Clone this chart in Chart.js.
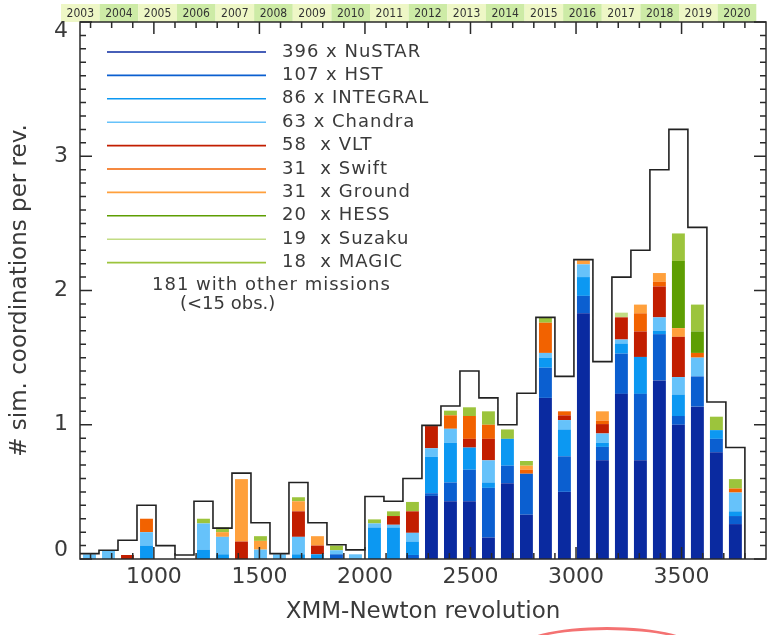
<!DOCTYPE html>
<html>
<head>
<meta charset="utf-8">
<script src="https://cdn.jsdelivr.net/npm/chart.js@4.4.1/dist/chart.umd.min.js"></script>
<style>
body { margin: 0; background: #fff; }
#wrap { position: relative; width: 769px; height: 635px; overflow: hidden; }
#arc { position: absolute; left: 515px; top: 627px; width: 178px; height: 40px; border: 3px solid #f47272; border-radius: 50%; }
</style>
</head>
<body>
<div id="wrap">
<canvas id="myChart" width="769" height="635"></canvas>
<div id="arc"></div>
</div>
<script>
// half-year bins of XMM-Newton revolutions (bin centres)
var binCenters = [695, 785, 875, 965, 1055, 1145, 1235, 1325, 1415, 1505, 1595, 1685, 1775, 1865, 1955, 2045, 2135, 2225,
                  2315, 2405, 2495, 2585, 2675, 2765, 2855, 2945, 3035, 3125, 3215, 3305, 3395, 3485, 3575, 3665, 3755];
var binWidth = 90;

var nustar   = [0, 0, 0, 0, 0, 0, 0, 0, 0, 0, 0, 0, 0, 0, 0, 0, 0, 0,
                0.47, 0.43, 0.43, 0.16, 0.565, 0.33, 1.2, 0.5, 1.83, 0.735, 1.23, 0.735, 1.33, 1.0, 1.135, 0.795, 0.26];
var hst      = [0, 0, 0, 0, 0, 0, 0, 0, 0, 0, 0, 0, 0, 0.035, 0, 0, 0, 0.03,
                0.02, 0.14, 0.235, 0.37, 0.13, 0.305, 0.225, 0.265, 0.13, 0.1, 0.3, 0.495, 0.345, 0.065, 0.225, 0.1, 0.06];
var integral = [0, 0, 0, 0.1, 0, 0, 0.07, 0.035, 0, 0, 0, 0.035, 0.035, 0, 0, 0.235, 0.235, 0.1,
                0.27, 0.295, 0.165, 0.04, 0.2, 0, 0.075, 0.2, 0.14, 0.03, 0.075, 0.275, 0.025, 0.16, 0, 0.065, 0.035];
var chandra  = [0.035, 0.06, 0, 0.1, 0, 0, 0.195, 0.13, 0, 0.07, 0.035, 0.13, 0, 0.03, 0.035, 0.03, 0.02, 0.065,
                0.065, 0.105, 0, 0.165, 0, 0, 0.035, 0.07, 0.095, 0.07, 0.03, 0, 0.1, 0.13, 0.14, 0, 0.14];
var vlt      = [0, 0, 0.03, 0, 0, 0, 0, 0, 0.13, 0, 0, 0.19, 0.065, 0, 0, 0, 0.065, 0.16,
                0.165, 0, 0.065, 0.16, 0, 0, 0, 0.035, 0, 0.07, 0.165, 0.19, 0.23, 0.3, 0, 0, 0];
var swift    = [0, 0, 0, 0.1, 0, 0, 0, 0, 0, 0, 0, 0, 0, 0, 0, 0, 0, 0,
                0, 0.1, 0.17, 0.105, 0, 0.03, 0.225, 0.03, 0, 0.025, 0, 0.135, 0.035, 0, 0.035, 0, 0.03];
var ground   = [0, 0, 0, 0, 0, 0, 0, 0.035, 0.465, 0.065, 0, 0.075, 0.07, 0, 0, 0, 0, 0,
                0, 0, 0, 0, 0, 0.03, 0, 0, 0.03, 0.07, 0, 0.065, 0.065, 0.065, 0, 0, 0];
var hess     = [0, 0, 0, 0, 0, 0, 0, 0, 0, 0, 0, 0, 0, 0, 0, 0, 0, 0,
                0, 0, 0, 0, 0, 0, 0, 0, 0, 0, 0, 0, 0, 0.5, 0.16, 0, 0];
var suzaku   = [0, 0, 0, 0, 0, 0, 0, 0, 0, 0, 0, 0, 0, 0, 0, 0, 0, 0,
                0, 0, 0, 0, 0, 0, 0, 0, 0, 0, 0.035, 0, 0, 0, 0, 0, 0];
var magic    = [0, 0, 0, 0, 0, 0, 0.035, 0.035, 0, 0.035, 0, 0.03, 0, 0.035, 0, 0.03, 0.035, 0.07,
                0, 0.035, 0.065, 0.1, 0.07, 0.035, 0.04, 0, 0, 0, 0, 0, 0, 0.205, 0.2, 0.1, 0.07];
// all simultaneous coordinations, incl. other missions
var totals   = [0.04, 0.065, 0.14, 0.4, 0.1, 0.03, 0.43, 0.23, 0.64, 0.27, 0.04, 0.57, 0.27, 0.106, 0.068, 0.466, 0.43, 0.6,
                0.995, 1.14, 1.4, 1.2, 1.0, 1.235, 1.8, 1.36, 2.23, 1.47, 2.1, 2.3, 2.9, 3.2, 2.47, 1.17, 0.83];

var missions = ['NuSTAR', 'HST', 'INTEGRAL', 'Chandra', 'VLT', 'Swift', 'Ground', 'HESS', 'Suzaku', 'MAGIC'];
var legendLabels = ['396 x NuSTAR', '107 x HST', '86 x INTEGRAL', '63 x Chandra', '58  x VLT',
                    '31  x Swift', '31  x Ground', '20  x HESS', '19  x Suzaku', '18  x MAGIC'];
var colors = ['#0a2aa0', '#0b5fd0', '#0c98f2', '#66c2fa', '#c21e00', '#f26200', '#ffa03c', '#5e9e02', '#c2dc84', '#9cc43c'];
var series = [nustar, hst, integral, chandra, vlt, swift, ground, hess, suzaku, magic];

var xTicks = [1000, 1500, 2000, 2500, 3000, 3500];
var yTicks = [0, 1, 2, 3, 4];
var years = ['2003', '2004', '2005', '2006', '2007', '2008', '2009', '2010', '2011',
             '2012', '2013', '2014', '2015', '2016', '2017', '2018', '2019', '2020'];
var yearStarts = [560, 743, 926, 1109, 1292, 1475, 1658, 1841, 2024, 2207,
                  2390, 2573, 2756, 2939, 3122, 3305, 3488, 3671, 3854];

var font = "'DejaVu Sans'";
var textColor = '#3a3a3a';

var datasets = series.map(function(vals, k) {
    return {
        label: missions[k],
        data: binCenters.map(function(c, i) { return { x: c, y: vals[i] }; }),
        backgroundColor: colors[k],
        borderWidth: 0,
        barPercentage: 0.68,
        categoryPercentage: 1,
        order: 1
    };
});

var stepData = binCenters.map(function(c, i) { return { x: c - binWidth / 2, y: totals[i] }; });
stepData.push({ x: binCenters[binCenters.length - 1] + binWidth / 2, y: 0 });
datasets.push({
    type: 'line',
    label: 'total',
    stack: 'total',
    data: stepData,
    stepped: 'before',
    borderColor: '#222',
    borderWidth: 1.6,
    pointRadius: 0,
    fill: false,
    order: 0
});

var decor = {
    id: 'decor',
    beforeDraw: function(chart) {
        var ctx = chart.ctx, xs = chart.scales.x, a = chart.chartArea;
        ctx.save();
        ctx.font = "12px 'DejaVu Sans Condensed', 'DejaVu Sans'";
        ctx.textAlign = 'center';
        ctx.textBaseline = 'middle';
        for (var i = 0; i < years.length; i++) {
            var x0 = xs.getPixelForValue(yearStarts[i]);
            var x1 = xs.getPixelForValue(yearStarts[i + 1]);
            ctx.fillStyle = i % 2 ? '#cdeba6' : '#eef7c6';
            ctx.fillRect(x0, 4, x1 - x0, a.top - 4);
            ctx.fillStyle = '#333';
            ctx.fillText(years[i], (x0 + x1) / 2, 14);
        }
        ctx.restore();
    },
    afterDraw: function(chart) {
        var ctx = chart.ctx, xs = chart.scales.x, ys = chart.scales.y, a = chart.chartArea;
        ctx.save();
        // axis box and inward ticks
        ctx.strokeStyle = '#2a2a2a';
        ctx.lineWidth = 1.5;
        ctx.strokeRect(a.left, a.top, a.right - a.left, a.bottom - a.top);
        ctx.beginPath();
        for (var v = 0; v <= 40; v++) {
            var y = ys.getPixelForValue(v / 10);
            var len = v % 10 ? 6 : 12;
            ctx.moveTo(a.left, y); ctx.lineTo(a.left + len, y);
            ctx.moveTo(a.right, y); ctx.lineTo(a.right - len, y);
        }
        for (var r = 700; r < 3900; r += 100) {
            var x = xs.getPixelForValue(r);
            var l2 = r % 500 ? 6 : 12;
            ctx.moveTo(x, a.bottom); ctx.lineTo(x, a.bottom - l2);
            ctx.moveTo(x, a.top); ctx.lineTo(x, a.top + l2);
        }
        ctx.stroke();

        // tick labels
        ctx.fillStyle = textColor;
        ctx.font = "22px " + font;
        ctx.textAlign = 'right';
        ctx.textBaseline = 'middle';
        yTicks.forEach(function(t) {
            var yy = ys.getPixelForValue(t);
            if (t === ys.min) yy -= 9;
            if (t === ys.max) yy += 9;
            ctx.fillText(String(t), a.left - 12, yy);
        });
        ctx.textAlign = 'center';
        xTicks.forEach(function(t) {
            ctx.fillText(String(t), xs.getPixelForValue(t), a.bottom + 18);
        });

        // legend
        ctx.font = "18px " + font;
        ctx.textAlign = 'left';
        ctx.letterSpacing = '1px';
        for (var k = 0; k < legendLabels.length; k++) {
            var ly = 52 + k * 23.4;
            ctx.strokeStyle = colors[k];
            ctx.lineWidth = 1.6;
            ctx.beginPath();
            ctx.moveTo(107, ly); ctx.lineTo(266, ly);
            ctx.stroke();
            ctx.fillStyle = textColor;
            ctx.fillText(legendLabels[k], 282, ly);
        }
        ctx.fillText('181 with other missions', 152, 285);
        ctx.letterSpacing = '0px';
        ctx.fillText('(<15 obs.)', 180, 304);
        ctx.restore();
    }
};

var ctx = document.getElementById('myChart').getContext('2d');
var myChart = new Chart(ctx, {
    type: 'bar',
    data: { datasets: datasets },
    options: {
        responsive: false,
        animation: false,
        devicePixelRatio: 1,
        layout: { padding: { top: 22, right: 3, left: 0, bottom: 0 } },
        plugins: { legend: { display: false }, tooltip: { enabled: false } },
        scales: {
            x: {
                type: 'linear', min: 650, max: 3900, stacked: true, offset: false,
                grid: { display: false, drawTicks: false },
                border: { display: false },
                ticks: { display: false },
                afterFit: function(s) { s.height = 76; },
                title: { display: true, text: 'XMM-Newton revolution', font: { family: 'DejaVu Sans', size: 23 },
                         color: textColor, padding: { top: 0, bottom: 9 } }
            },
            y: {
                min: 0, max: 4, stacked: true,
                grid: { display: false, drawTicks: false },
                border: { display: false },
                ticks: { display: false },
                afterFit: function(s) { s.width = 80; },
                title: { display: true, text: '# sim. coordinations per rev.', font: { family: 'DejaVu Sans', size: 23 },
                         color: textColor, padding: { top: 6, bottom: 0 } }
            }
        }
    },
    plugins: [decor]
});
</script>
</body>
</html>
